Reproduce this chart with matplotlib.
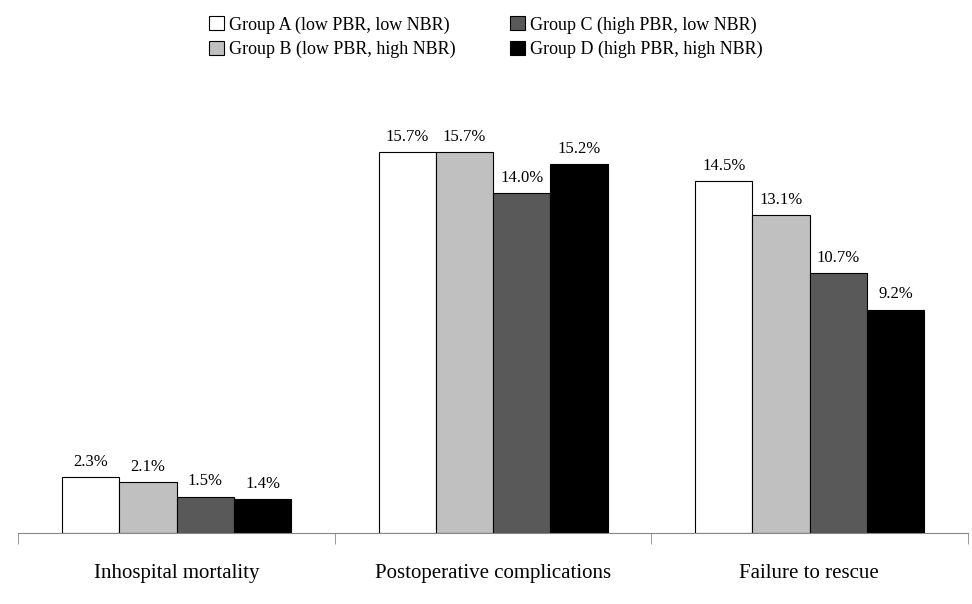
import matplotlib.pyplot as plt
import numpy as np

plt.rcParams['font.family'] = ['Liberation Serif', 'DejaVu Serif']

categories = ['Inhospital mortality', 'Postoperative complications', 'Failure to rescue']
groups = ['Group A (low PBR, low NBR)', 'Group B (low PBR, high NBR)',
          'Group C (high PBR, low NBR)', 'Group D (high PBR, high NBR)']
values = [
    [2.3, 15.7, 14.5],
    [2.1, 15.7, 13.1],
    [1.5, 14.0, 10.7],
    [1.4, 15.2, 9.2],
]
colors = ['white', '#c0c0c0', '#595959', 'black']

fig = plt.figure(figsize=(9.72, 6.04), dpi=100)
ax = fig.add_axes([0.0185, 0.1175, 0.977, 0.7235])

width = 0.181
start = 0.139
handles = []
for j, (g, vals) in enumerate(zip(groups, values)):
    x = np.arange(len(categories)) + start + j * width
    b = ax.bar(x, vals, width, align='edge', color=colors[j], edgecolor='black',
               linewidth=0.8, label=g)
    handles.append(b)
    for xi, v in zip(x, vals):
        ax.text(xi + width / 2, v + 0.3, f'{v:.1f}%', ha='center', va='bottom', fontsize=12)

ax.set_xlim(0, 3)
ax.set_ylim(0, 18)
ax.set_yticks([])
ax.set_xticks([0.5, 1.5, 2.5])
ax.set_xticklabels(categories, fontsize=15)
ax.set_xticks([0, 1, 2, 3], minor=True)
ax.tick_params(axis='x', which='major', length=0, pad=22)
ax.tick_params(axis='x', which='minor', length=8, color='#888888', direction='out')
for s in ['top', 'right', 'left']:
    ax.spines[s].set_visible(False)
ax.spines['bottom'].set_color('#888888')

fig.legend(handles=handles, loc='upper center', bbox_to_anchor=(0.5, 1.0), ncol=2,
           frameon=False, fontsize=13, handlelength=0.8, handleheight=0.8,
           handletextpad=0.3, columnspacing=3.0, labelspacing=0.4)

fig.savefig('out.png', dpi=100)
